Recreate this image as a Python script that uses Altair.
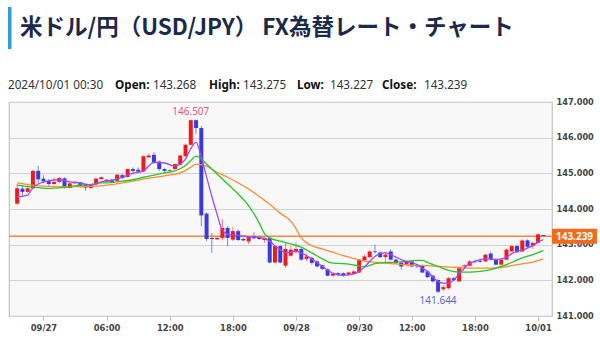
import altair as alt
import pandas as pd

# ---------------- data ----------------
opens = [144.15, 144.57, 144.48, 144.58, 145.07, 144.85, 144.79, 144.70, 144.76, 144.86,
         144.59, 144.72, 144.74, 144.67, 144.59, 144.69, 144.84, 144.77, 144.82, 144.79,
         144.95, 144.90, 145.12, 145.10, 145.05, 145.45, 145.52, 145.33, 145.12, 145.07,
         145.12, 145.24, 145.48, 145.80, 146.49, 146.27, 143.87, 143.19, 143.15, 143.19,
         143.47, 143.14, 143.38, 143.16, 143.09, 143.24, 143.21, 143.13, 143.19, 142.50,
         142.96, 142.41, 142.69, 142.82, 142.88, 142.60, 142.63, 142.53, 142.42, 142.31,
         142.13, 142.20, 142.20, 142.16, 142.18, 142.22, 142.56, 142.65, 142.81, 142.78,
         142.65, 142.81, 142.58, 142.50, 142.44, 142.53, 142.43, 142.41, 142.25, 142.13,
         142.01, 141.75, 141.78, 142.06, 141.97, 142.39, 142.41, 142.54, 142.55, 142.53,
         142.75, 142.60, 142.44, 142.58, 142.81, 142.96, 142.81, 143.12, 142.97, 143.05,
         143.268]
highs = [144.70, 144.67, 144.70, 145.09, 145.21, 144.95, 144.84, 144.88, 144.90, 144.89,
         144.74, 144.78, 144.77, 144.70, 144.69, 144.88, 144.91, 144.84, 144.84, 144.99,
         144.99, 145.14, 145.16, 145.16, 145.50, 145.55, 145.59, 145.36, 145.14, 145.12,
         145.28, 145.52, 145.84, 146.507, 146.50, 146.33, 143.90, 143.33, 143.21, 143.72,
         143.52, 143.50, 143.43, 143.19, 143.24, 143.35, 143.25, 143.21, 143.23, 142.99,
         142.98, 143.05, 142.96, 143.07, 142.90, 142.75, 142.66, 142.56, 142.44, 142.33,
         142.20, 142.23, 142.22, 142.24, 142.27, 142.60, 142.72, 142.83, 143.00, 142.81,
         142.78, 142.87, 142.60, 142.53, 142.55, 142.56, 142.46, 142.44, 142.28, 142.15,
         142.03, 141.86, 142.09, 142.09, 142.37, 142.44, 142.56, 142.58, 142.58, 142.74,
         142.80, 142.62, 142.60, 142.89, 142.99, 142.99, 143.15, 143.15, 143.08, 143.31,
         143.275]
lows = [144.10, 144.35, 144.45, 144.55, 144.71, 144.72, 144.65, 144.68, 144.72, 144.57,
        144.57, 144.70, 144.60, 144.52, 144.57, 144.67, 144.82, 144.75, 144.74, 144.77,
        144.84, 144.88, 145.00, 145.00, 145.03, 145.43, 145.26, 145.07, 145.00, 145.02,
        145.10, 145.22, 145.46, 145.78, 146.11, 143.52, 143.10, 142.77, 143.13, 143.12,
        142.95, 143.10, 143.10, 143.10, 143.02, 143.15, 143.13, 143.05, 142.48, 142.48,
        142.48, 142.34, 142.66, 142.75, 142.55, 142.53, 142.44, 142.36, 142.29, 142.11,
        142.11, 142.12, 142.10, 142.14, 142.16, 142.20, 142.54, 142.63, 142.75, 142.63,
        142.47, 142.56, 142.46, 142.30, 142.42, 142.36, 142.34, 142.20, 142.06, 141.94,
        141.644, 141.70, 141.74, 141.98, 141.95, 142.36, 142.39, 142.48, 142.50, 142.51,
        142.56, 142.42, 142.42, 142.56, 142.79, 142.76, 142.79, 142.91, 142.88, 143.02,
        143.227]
closes = [144.58, 144.48, 144.58, 145.07, 144.83, 144.77, 144.70, 144.76, 144.87, 144.60,
          144.72, 144.76, 144.64, 144.60, 144.67, 144.85, 144.89, 144.82, 144.76, 144.96,
          144.87, 145.12, 145.07, 145.05, 145.48, 145.50, 145.29, 145.12, 145.07, 145.09,
          145.26, 145.50, 145.80, 146.49, 146.27, 143.82, 143.16, 143.16, 143.19, 143.47,
          143.19, 143.38, 143.13, 143.12, 143.22, 143.18, 143.16, 143.19, 142.50, 142.96,
          142.50, 142.88, 142.86, 142.88, 142.58, 142.67, 142.49, 142.39, 142.32, 142.13,
          142.18, 142.16, 142.14, 142.22, 142.25, 142.58, 142.67, 142.81, 142.79, 142.65,
          142.72, 142.58, 142.48, 142.39, 142.52, 142.39, 142.39, 142.22, 142.09, 141.97,
          141.68, 141.81, 142.06, 142.01, 142.34, 142.42, 142.53, 142.52, 142.52, 142.72,
          142.58, 142.44, 142.58, 142.86, 142.96, 142.79, 143.12, 142.94, 143.05, 143.29,
          143.239]

# x-axis tick positions (candle index) and their labels
tick_idx = [5, 17, 29, 41, 53, 65, 75, 87, 99]
tick_labels = ["09/27", "06:00", "12:00", "18:00", "09/28", "09/30", "12:00", "18:00", "10/01"]
y_ticks = [141, 142, 143, 144, 145, 146, 147]

# moving averages (read at sampled candle indices)
ma_short_idx = [0, 2, 3, 4, 6, 8, 10, 12, 14, 16, 18, 20, 22, 24, 26, 28, 30, 31, 32, 33, 34,
                35, 36, 37, 38, 39, 40, 42, 44, 46, 47, 48, 49, 50, 51, 52, 53, 54, 56, 58,
                60, 62, 64, 65, 66, 67, 68, 69, 70, 71, 72, 73, 74, 75, 76, 77, 78, 79, 80,
                81, 82, 83, 84, 85, 86, 87, 88, 89, 90, 91, 92, 93, 94, 95, 96, 97, 98, 99, 100]
ma_short_val = [144.34, 144.39, 144.60, 144.70, 144.79, 144.82, 144.76, 144.73, 144.67, 144.76,
                144.80, 144.89, 145.00, 145.07, 145.31, 145.29, 145.20, 145.26, 145.40, 145.69,
                145.87, 145.45, 144.90, 144.35, 143.85, 143.40, 143.29, 143.26, 143.22, 143.21,
                143.17, 143.10, 142.97, 142.86, 142.77, 142.79, 142.81, 142.77, 142.60, 142.39,
                142.20, 142.14, 142.18, 142.25, 142.37, 142.53, 142.67, 142.75, 142.77, 142.72,
                142.65, 142.58, 142.53, 142.50, 142.44, 142.34, 142.25, 142.09, 141.97, 141.92,
                141.92, 142.01, 142.18, 142.34, 142.47, 142.53, 142.58, 142.60, 142.60, 142.58,
                142.60, 142.65, 142.75, 142.81, 142.84, 142.91, 142.97, 143.07, 143.14]

ma_mid_idx = [0, 2, 4, 6, 8, 10, 12, 14, 16, 18, 20, 22, 24, 26, 28, 30, 32, 33, 34, 35, 36,
              38, 40, 42, 44, 46, 47, 48, 50, 52, 54, 56, 58, 60, 62, 64, 66, 68, 70, 72, 74,
              76, 77, 78, 80, 82, 84, 86, 88, 90, 92, 94, 96, 98, 100]
ma_mid_val = [144.67, 144.63, 144.60, 144.58, 144.59, 144.63, 144.67, 144.69, 144.73, 144.74,
              144.78, 144.82, 144.89, 144.95, 145.01, 145.07, 145.22, 145.36, 145.48, 145.40,
              145.26, 144.98, 144.70, 144.42, 144.09, 143.61, 143.31, 143.19, 143.10, 143.02,
              142.93, 142.77, 142.60, 142.48, 142.47, 142.43, 142.38, 142.47, 142.50, 142.51,
              142.53, 142.56, 142.56, 142.50, 142.39, 142.28, 142.23, 142.23, 142.25, 142.30,
              142.39, 142.50, 142.63, 142.72, 142.84]

ma_long_idx = [0, 4, 8, 12, 16, 20, 24, 28, 31, 33, 34, 36, 38, 40, 42, 44, 46, 48, 50, 52,
               53, 54, 55, 56, 58, 60, 62, 64, 66, 68, 70, 72, 74, 76, 78, 80, 82, 84, 86, 88,
               90, 92, 94, 96, 98, 100]
ma_long_val = [144.73, 144.65, 144.63, 144.63, 144.65, 144.73, 144.84, 144.93, 145.01, 145.17,
               145.26, 145.20, 145.03, 144.89, 144.73, 144.56, 144.35, 144.13, 143.88, 143.66,
               143.45, 143.19, 143.05, 142.97, 142.88, 142.79, 142.69, 142.61, 142.54, 142.51,
               142.48, 142.46, 142.43, 142.42, 142.41, 142.39, 142.37, 142.36, 142.34, 142.34,
               142.34, 142.36, 142.41, 142.46, 142.51, 142.60]

header_time = "2024/10/01 00:30"
header_open = "143.268"
header_high = "143.275"
header_low = "143.227"
header_close = "143.239"
title_text = "米ドル/円（USD/JPY） FX為替レート・チャート"

# ---------------- styling ----------------
UP = "#f2191c"
DOWN = "#3b3bdc"
UP_WICK = "#ff7a85"
DOWN_WICK = "#8080e6"
C_SHORT = "#a347f5"
C_MID = "#25c825"
C_LONG = "#ff8a30"
C_PRICE = "#f5883a"

W, H = 543, 214
X_DOM = [-0.6, 100.7]
Y_DOM = [141, 147]

df = pd.DataFrame({"i": list(range(len(opens))), "open": opens, "high": highs,
                   "low": lows, "close": closes})

label_expr = " : ".join(f"datum.value == {i} ? '{l}'" for i, l in zip(tick_idx, tick_labels)) + " : ''"

xscale = alt.Scale(domain=X_DOM, nice=False, zero=False)
x_axis = alt.Axis(values=tick_idx, labelExpr=label_expr, title=None, grid=False,
                  domain=False, ticks=True, tickSize=4, tickColor="#bbbbbb",
                  labelFont="DejaVu Sans", labelFontSize=8.4, labelColor="#444444",
                  labelFontWeight="bold", labelPadding=3, labelFlush=False)
y_axis = alt.Axis(orient="right", values=y_ticks, format=".3f", tickCount=7,
                  title=None, grid=True, gridColor="#d2d2d2", gridWidth=1.2,
                  domain=False, ticks=False, labelPadding=4, labelOverlap=False,
                  labelFont="DejaVu Sans", labelFontSize=8.2, labelColor="#444444",
                  labelFontWeight="bold")
yscale = alt.Scale(domain=Y_DOM, nice=False, zero=False)


def X(field):
    return alt.X(field, scale=xscale, axis=x_axis)


def Y(field):
    return alt.Y(field, scale=yscale, axis=y_axis)


base = alt.Chart(df)
is_up = "datum.close >= datum.open"

wicks = base.mark_rule(strokeWidth=1).encode(
    x=X("i:Q"), y=Y("low:Q"), y2="high:Q",
    color=alt.condition(is_up, alt.value(UP_WICK), alt.value(DOWN_WICK)),
)
bodies = base.mark_bar(size=4).encode(
    x=X("i:Q"), y=Y("open:Q"), y2="close:Q",
    color=alt.condition(is_up, alt.value(UP), alt.value(DOWN)),
)


def ma_layer(idx, vals, color):
    d = pd.DataFrame({"i": idx, "v": vals})
    return alt.Chart(d).mark_line(color=color, strokeWidth=1.3, interpolate="monotone").encode(
        x=X("i:Q"), y=Y("v:Q"))


ma_s = ma_layer(ma_short_idx, ma_short_val, C_SHORT)
ma_m = ma_layer(ma_mid_idx, ma_mid_val, C_MID)
ma_l = ma_layer(ma_long_idx, ma_long_val, C_LONG)

last = pd.DataFrame({"close": [closes[-1]], "label": [header_close]})
price_line = alt.Chart(last).mark_rule(color=C_PRICE, strokeWidth=1.5).encode(y=Y("close:Q"))
price_box = alt.Chart(last).transform_calculate(
    top="datum.close + 0.21", bot="datum.close - 0.21"
).mark_rect(color="#f26b1d").encode(
    x=alt.value(543), x2=alt.value(588), y=Y("top:Q"), y2="bot:Q")
price_text = alt.Chart(last).mark_text(
    color="white", font="Noto Sans", fontSize=10, fontWeight="bold", align="center",
    baseline="middle", dy=0.5).encode(x=alt.value(565.5), y=Y("close:Q"), text="label:N")

pk = highs.index(max(highs))
tr = lows.index(min(lows))
ext = pd.DataFrame({"i": [pk, tr], "p": [highs[pk], lows[tr]],
                    "t": [f"{highs[pk]:.3f}", f"{lows[tr]:.3f}"]})
peak_lbl = alt.Chart(ext.iloc[[0]]).mark_text(
    color="#f0567a", font="Noto Sans", fontSize=10, baseline="bottom", dy=-3).encode(
    x=X("i:Q"), y=Y("p:Q"), text="t:N")
trough_lbl = alt.Chart(ext.iloc[[1]]).mark_text(
    color="#5a6ad0", font="Noto Sans", fontSize=10, baseline="top", dy=3).encode(
    x=X("i:Q"), y=Y("p:Q"), text="t:N")

# title & header (positions relative to plot origin at (9,102))
one = pd.DataFrame({"t": [title_text]})
title_bar = alt.Chart(one).mark_rect(color="#2a9fd8").encode(
    x=alt.value(-1), x2=alt.value(2.5), y=alt.value(-95), y2=alt.value(-53))
title = alt.Chart(one).mark_text(
    font="Noto Sans CJK JP", fontSize=22.5, fontWeight="bold", color="#1c2a4a",
    align="left", baseline="middle").encode(x=alt.value(11), y=alt.value(-74), text="t:N")

hdr = pd.DataFrame({
    "t": [header_time, "Open:", header_open, "High:", header_high, "Low:", header_low,
          "Close:", header_close],
    "x": [-1, 106, 144, 200, 234, 288, 321, 373, 415],
    "b": [0, 1, 0, 1, 0, 1, 0, 1, 0],
})
hdr_norm = alt.Chart(hdr).transform_filter("datum.b == 0").mark_text(
    font="Noto Sans", fontSize=11.7, color="#333333", align="left", baseline="middle").encode(
    x=alt.X("x:Q", scale=None), y=alt.value(-17), text="t:N")
hdr_bold = alt.Chart(hdr).transform_filter("datum.b == 1").mark_text(
    font="Noto Sans", fontSize=11.7, fontWeight="bold", color="#111111", align="left",
    baseline="middle").encode(x=alt.X("x:Q", scale=None), y=alt.value(-17), text="t:N")

chart = alt.layer(
    wicks, price_line, bodies, ma_l, ma_m, ma_s, price_box, price_text,
    peak_lbl, trough_lbl, title_bar, title, hdr_norm, hdr_bold
).properties(
    width=W, height=H,
    autosize=alt.AutoSizeParams(type="none"),
    padding={"left": 9, "top": 102, "right": 48, "bottom": 33},
    background="white",
).configure_view(fill="#f8f8f8", stroke="#c4c4c4", strokeWidth=1.2)

chart.save("out.html", embed_options={"renderer": "svg", "actions": False})
